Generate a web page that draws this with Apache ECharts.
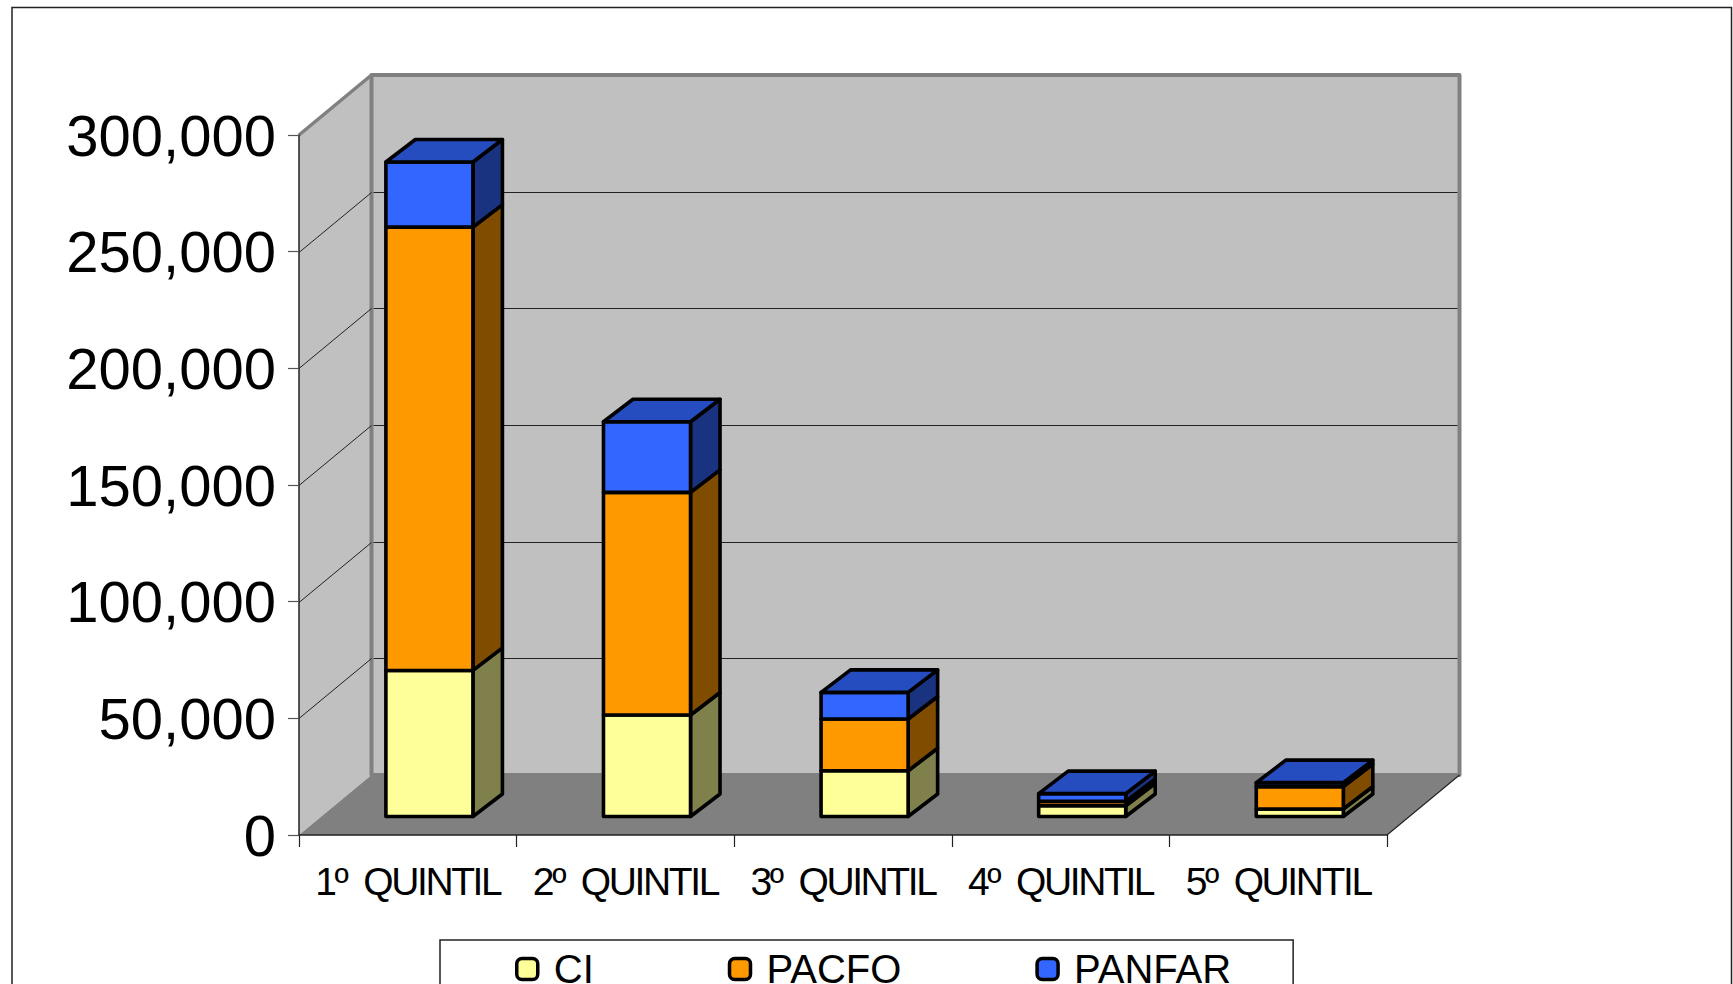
<!DOCTYPE html>
<html>
<head>
<meta charset="utf-8">
<style>
html,body{margin:0;padding:0;background:#fff;overflow:hidden}
#c{width:1733px;height:984px}
#c text[style*="39px"]{letter-spacing:-2.4px}
</style>
<script src="https://cdn.jsdelivr.net/npm/echarts@6/dist/echarts.min.js"></script>
</head>
<body>
<div id="c"></div>
<script>
const categories = ['1º  QUINTIL', '2º  QUINTIL', '3º  QUINTIL', '4º  QUINTIL', '5º  QUINTIL'];
const ci = [62600, 43500, 19600, 4600, 3200];
const pacfo = [190000, 95400, 22200, 1900, 9600];
const panfar = [27900, 30300, 11400, 3300, 1700];
const gridTicks = [50000, 100000, 150000, 200000, 250000];

const FONT = '"Liberation Sans", Arial, sans-serif';
const WALL_DX = 72.5, WALL_DY = 60;     // depth of the chart box
const BAR_DX = 21.6, BAR_DY = 18.5;     // how far back the bars stand
const DEPTH_DX = 29.5, DEPTH_DY = 22.5; // depth of a bar
const EDGE = 3.6;

const stacks = [
  { name: 'CI', values: ci, front: '#FFFF99', side: '#80804D', top: '#BFBF73' },
  { name: 'PACFO', values: pacfo, front: '#FF9900', side: '#804D00', top: '#BF7300' },
  { name: 'PANFAR', values: panfar, front: '#3366FF', side: '#1A3380', top: '#264DBF' }
];

function poly(points, fill, stroke, width) {
  return {
    type: 'polygon',
    shape: { points },
    style: { fill, stroke: stroke || null, lineWidth: width || 0, lineJoin: 'round' }
  };
}
function seg(a, b, stroke, width) {
  return {
    type: 'line',
    shape: { x1: a[0], y1: a[1], x2: b[0], y2: b[1] },
    style: { stroke, lineWidth: width, fill: null }
  };
}

function renderWalls(params, api) {
  const g = params.coordSys;
  const l = g.x, r = g.x + g.width, t = g.y, b = g.y + g.height;
  const d = p => [p[0] + WALL_DX, p[1] - WALL_DY];
  return {
    type: 'group',
    children: [
      poly([[l, t], d([l, t]), d([l, b]), [l, b]], '#C0C0C0'),
      poly([d([l, t]), d([r, t]), d([r, b]), d([l, b])], '#C0C0C0', '#808080', 4),
      poly([[l, b], d([l, b]), d([r, b]), [r, b]], '#808080'),
      seg([l, t], d([l, t]), '#808080', 3.5),
      seg([r, b], d([r, b]), '#222222', 1.2)
    ]
  };
}

function renderGridLine(params, api) {
  const g = params.coordSys;
  const y = Math.round(api.coord([0, api.value(0)])[1]) + 0.5;
  const l = g.x, r = g.x + g.width;
  return {
    type: 'group',
    children: [
      seg([l, y], [l + WALL_DX, y - WALL_DY], '#222222', 1),
      seg([l + WALL_DX + 2, y - WALL_DY], [r + WALL_DX - 2, y - WALL_DY], '#222222', 1)
    ]
  };
}

function barRenderer(stack, isLast) {
  return function (params, api) {
    const i = api.value(0);
    const lo = api.coord([i, api.value(1)]);
    const hi = api.coord([i, api.value(2)]);
    const w = api.size([1, 0])[0] * 0.4;
    const x0 = lo[0] + BAR_DX - w / 2, x1 = x0 + w;
    const yb = lo[1] - BAR_DY, yt = hi[1] - BAR_DY;
    const children = [
      poly([[x1, yb], [x1 + DEPTH_DX, yb - DEPTH_DY], [x1 + DEPTH_DX, yt - DEPTH_DY], [x1, yt]], stack.side, '#000', EDGE),
      poly([[x0, yb], [x1, yb], [x1, yt], [x0, yt]], stack.front, '#000', EDGE)
    ];
    if (isLast) {
      children.push(poly([[x0, yt], [x1, yt], [x1 + DEPTH_DX, yt - DEPTH_DY], [x0 + DEPTH_DX, yt - DEPTH_DY]], stack.top, '#000', EDGE));
    }
    return { type: 'group', children };
  };
}

const cumulative = categories.map(() => 0);
const barSeries = stacks.map((s, k) => {
  const data = s.values.map((v, i) => {
    const base = cumulative[i];
    cumulative[i] += v;
    return [i, base, cumulative[i]];
  });
  return {
    type: 'custom',
    name: s.name,
    coordinateSystem: 'cartesian2d',
    renderItem: barRenderer(s, k === stacks.length - 1),
    encode: { x: 0, y: 2 },
    itemStyle: { color: s.front },
    data,
    z: 5,
    clip: false,
    silent: true
  };
});

const chart = echarts.init(document.getElementById('c'), null, { renderer: 'svg' });
chart.setOption({
  animation: false,
  backgroundColor: '#fff',
  graphic: [{
    type: 'rect',
    shape: { x: 12, y: 7.5, width: 1719.5, height: 1010 },
    style: { fill: null, stroke: '#222', lineWidth: 1.5 },
    z: 0
  }],
  grid: { left: 299, top: 135, width: 1088, height: 700, containLabel: false },
  xAxis: {
    type: 'category',
    data: categories,
    z: 10,
    axisLine: { show: true, lineStyle: { color: '#222', width: 1.5 } },
    axisTick: { show: true, length: 12, alignWithLabel: false, lineStyle: { color: '#222', width: 1.2 } },
    splitLine: { show: false },
    axisLabel: { color: '#000', fontFamily: FONT, fontSize: 39, margin: 27, interval: 0 }
  },
  yAxis: {
    type: 'value',
    min: 0,
    max: 300000,
    interval: 50000,
    z: 10,
    axisLine: { show: true, lineStyle: { color: '#222', width: 1.5 } },
    axisTick: { show: true, length: 11, lineStyle: { color: '#555', width: 1.2 } },
    splitLine: { show: false },
    axisLabel: {
      color: '#000', fontFamily: FONT, fontSize: 58, margin: 23, padding: [7, 0, 0, 0],
      formatter: v => v.toLocaleString('en-US')
    }
  },
  legend: {
    left: 440,
    top: 940,
    orient: 'horizontal',
    padding: [9, 62, 45, 75],
    itemGap: 134,
    itemWidth: 21,
    itemHeight: 21,
    itemStyle: { borderColor: '#000', borderWidth: 3.5 },
    backgroundColor: '#fff',
    borderColor: '#222',
    borderWidth: 1.5,
    textStyle: { color: '#000', fontFamily: FONT, fontSize: 40, lineHeight: 28, padding: [0, 0, 0, 11] },
    selectedMode: false,
    icon: 'roundRect',
    data: stacks.map(s => s.name)
  },
  series: [
    {
      type: 'custom',
      coordinateSystem: 'cartesian2d',
      renderItem: renderWalls,
      data: [[0, 0]],
      z: 1,
      clip: false,
      silent: true
    },
    {
      type: 'custom',
      coordinateSystem: 'cartesian2d',
      renderItem: renderGridLine,
      encode: { y: 0 },
      data: gridTicks.map(v => [v]),
      z: 2,
      clip: false,
      silent: true
    }
  ].concat(barSeries)
});
</script>
</body>
</html>
